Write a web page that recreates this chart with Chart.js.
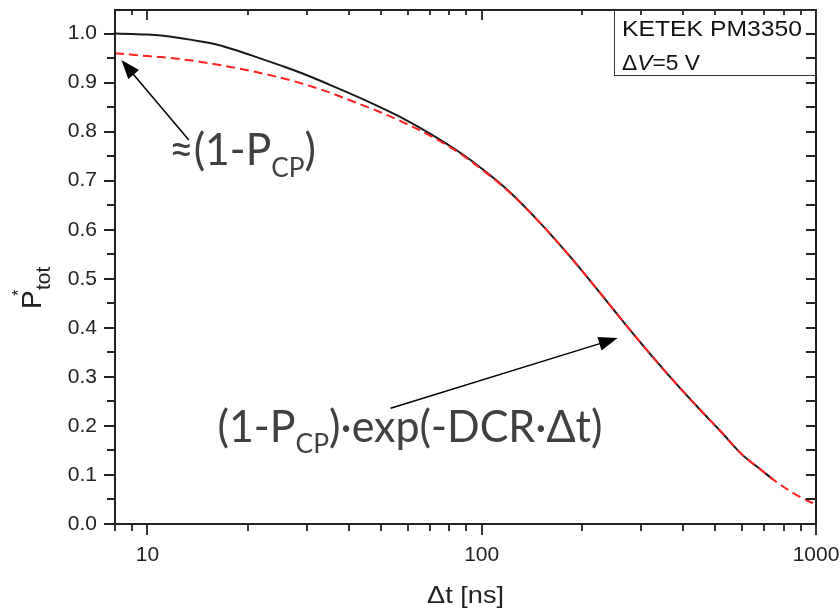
<!DOCTYPE html>
<html>
<head>
<meta charset="utf-8">
<script src="https://cdn.jsdelivr.net/npm/chart.js@4.4.1/dist/chart.umd.min.js"></script>
<style>
  html, body { margin: 0; padding: 0; background: #fff; }
  canvas { display: block; }
</style>
</head>
<body>
<canvas id="chartCanvas" width="840" height="611"></canvas>
<script>
// values
const dtValues = [8, 9, 10, 11, 12.5, 15.5, 18, 21, 25, 29, 35, 40, 50, 57, 70, 85, 100, 120, 150, 185, 220, 273, 330, 385, 450, 520, 600, 680, 740, 860, 1000];
const measuredValues = [1.000, 0.999, 0.998, 0.996, 0.991, 0.980, 0.968, 0.953, 0.935, 0.919, 0.896, 0.879, 0.849, 0.830, 0.796, 0.760, 0.725, 0.680, 0.613, 0.543, 0.481, 0.402, 0.335, 0.283, 0.233, 0.188, 0.142, 0.112, 0.092, null, null];
const modelValues = [0.960, 0.957, 0.954, 0.952, 0.948, 0.939, 0.931, 0.922, 0.910, 0.898, 0.880, 0.865, 0.839, 0.822, 0.792, 0.758, 0.723, 0.679, 0.613, 0.543, 0.481, 0.402, 0.335, 0.283, 0.233, 0.188, 0.142, 0.112, 0.092, 0.062, 0.039];

const xTickLabels = [10, 100, 1000];
const xMinorTicks = [8, 9, 20, 30, 40, 50, 60, 70, 80, 90, 200, 300, 400, 500, 600, 700, 800, 900];
const yTickLabels = [0, 0.1, 0.2, 0.3, 0.4, 0.5, 0.6, 0.7, 0.8, 0.9, 1.0];
const yMinorTicks = [0.05, 0.15, 0.25, 0.35, 0.45, 0.55, 0.65, 0.75, 0.85, 0.95];

const ARIAL = "'Liberation Sans', Arial, sans-serif";
const CALIBRI = "Lato, 'Open Sans', sans-serif";

function toPoints(ys) {
  return dtValues.map((x, i) => ({x: x, y: ys[i]})).filter(p => p.y !== null);
}

// draw a run of text pieces, squeezed/stretched to a given width
function drawPieces(ctx, pieces, x, y, width) {
  let total = 0;
  pieces.forEach(p => {
    ctx.font = p.font;
    total += ctx.measureText(p.text).width;
  });
  ctx.save();
  ctx.translate(x, y);
  ctx.scale(width / total, 1);
  let cx = 0;
  pieces.forEach(p => {
    ctx.font = p.font;
    ctx.fillText(p.text, cx, p.dy || 0);
    cx += ctx.measureText(p.text).width;
  });
  ctx.restore();
}

function drawArrow(ctx, x1, y1, x2, y2) {
  const ang = Math.atan2(y2 - y1, x2 - x1);
  const len = 19, half = 7;
  ctx.save();
  ctx.strokeStyle = '#000';
  ctx.fillStyle = '#000';
  ctx.lineWidth = 1.5;
  ctx.beginPath();
  ctx.moveTo(x1, y1);
  ctx.lineTo(x2 - Math.cos(ang) * len * 0.8, y2 - Math.sin(ang) * len * 0.8);
  ctx.stroke();
  ctx.beginPath();
  ctx.moveTo(x2, y2);
  ctx.lineTo(x2 - Math.cos(ang) * len + Math.sin(ang) * half, y2 - Math.sin(ang) * len - Math.cos(ang) * half);
  ctx.lineTo(x2 - Math.cos(ang) * len - Math.sin(ang) * half, y2 - Math.sin(ang) * len + Math.cos(ang) * half);
  ctx.closePath();
  ctx.fill();
  ctx.restore();
}

const decorations = {
  id: 'decorations',
  afterDraw(chart) {
    const ctx = chart.ctx;
    const a = chart.chartArea;
    const xs = chart.scales.x;
    const ys = chart.scales.y;

    // frame
    ctx.save();
    ctx.strokeStyle = '#222';
    ctx.lineWidth = 2;
    ctx.strokeRect(a.left, a.top, a.right - a.left, a.bottom - a.top);

    // ticks
    ctx.lineWidth = 1.8;
    ctx.beginPath();
    xTickLabels.forEach(v => {
      const px = Math.round(xs.getPixelForValue(v));
      ctx.moveTo(px, a.bottom); ctx.lineTo(px, a.bottom + 11);
      ctx.moveTo(px, a.top); ctx.lineTo(px, a.top + 10);
    });
    xMinorTicks.forEach(v => {
      const px = Math.round(xs.getPixelForValue(v));
      ctx.moveTo(px, a.bottom); ctx.lineTo(px, a.bottom + 7);
      ctx.moveTo(px, a.top); ctx.lineTo(px, a.top + 5);
    });
    yTickLabels.forEach(v => {
      const py = Math.round(ys.getPixelForValue(v));
      ctx.moveTo(a.left - 11, py); ctx.lineTo(a.left, py);
      ctx.moveTo(a.right - 10, py); ctx.lineTo(a.right, py);
    });
    yMinorTicks.forEach(v => {
      const py = Math.round(ys.getPixelForValue(v));
      ctx.moveTo(a.left - 8, py); ctx.lineTo(a.left, py);
      ctx.moveTo(a.right - 10, py); ctx.lineTo(a.right, py);
    });
    ctx.stroke();
    ctx.restore();

    // axis titles
    ctx.save();
    ctx.fillStyle = '#222';
    ctx.textBaseline = 'alphabetic';
    drawPieces(ctx, [{text: '\u0394t [ns]', font: '24px ' + ARIAL}], 427, 603, 77);
    ctx.translate(41, 309);
    ctx.rotate(-Math.PI / 2);
    ctx.font = '28px ' + ARIAL;
    ctx.fillText('P', 0, 0);
    ctx.font = '17px ' + ARIAL;
    ctx.fillText('*', 13, -17);
    ctx.font = '21px ' + ARIAL;
    ctx.fillText('tot', 19, 9);
    ctx.restore();

    // legend box
    ctx.save();
    ctx.strokeStyle = '#333';
    ctx.lineWidth = 1;
    ctx.strokeRect(a.right - 202 + 0.5, a.top + 0.5, 202, 65);
    ctx.fillStyle = '#111';
    drawPieces(ctx, [{text: 'KETEK PM3350', font: '22px ' + ARIAL}], a.right - 194, a.top + 26, 180);
    drawPieces(ctx, [
      {text: '\u0394', font: '22px ' + ARIAL},
      {text: 'V', font: 'italic 22px ' + ARIAL},
      {text: '=5 V', font: '22px ' + ARIAL}
    ], a.right - 194, a.top + 60, 78);
    ctx.restore();

    // annotations
    ctx.save();
    ctx.fillStyle = '#404040';
    const big = '44px ' + CALIBRI;
    const sub = '27px ' + CALIBRI;
    drawPieces(ctx, [
      {text: '\u2248(1-P', font: big},
      {text: 'CP', font: sub, dy: 12},
      {text: ')', font: big}
    ], xs.getPixelForValue(11.6), ys.getPixelForValue(0.732), 147);
    drawPieces(ctx, [
      {text: '(1-P', font: big},
      {text: 'CP', font: sub, dy: 11},
      {text: ')\u00b7exp(-DCR\u00b7\u0394t)', font: big}
    ], xs.getPixelForValue(16.2), ys.getPixelForValue(0.168), 385);
    ctx.restore();

    drawArrow(ctx, xs.getPixelForValue(13.3), ys.getPixelForValue(0.783), xs.getPixelForValue(8.36), ys.getPixelForValue(0.946));
    drawArrow(ctx, xs.getPixelForValue(53.4), ys.getPixelForValue(0.236), xs.getPixelForValue(255), ys.getPixelForValue(0.379));
  }
};

const ctx = document.getElementById('chartCanvas').getContext('2d');
new Chart(ctx, {
  type: 'line',
  data: {
    datasets: [
      {
        label: 'model',
        data: toPoints(modelValues),
        borderColor: '#ff2020',
        borderWidth: 2,
        borderDash: [9, 5],
        pointRadius: 0,
        fill: false,
        cubicInterpolationMode: 'monotone',
      },
      {
        label: 'measured',
        data: toPoints(measuredValues),
        borderColor: '#1a1a1a',
        borderWidth: 2,
        pointRadius: 0,
        fill: false,
        cubicInterpolationMode: 'monotone',
      },
    ],
  },
  options: {
    responsive: false,
    animation: false,
    layout: {padding: {left: 0, top: 10, right: 24, bottom: 0}},
    plugins: {
      legend: {display: false},
      tooltip: {enabled: false},
    },
    scales: {
      x: {
        type: 'logarithmic',
        position: 'bottom',
        min: 8,
        max: 1000,
        afterBuildTicks: s => { s.ticks = xTickLabels.map(v => ({value: v})); },
        afterFit: s => { s.height = 87; s.paddingLeft = 0; s.paddingRight = 0; },
        grid: {drawOnChartArea: false, color: 'rgba(0,0,0,0)', tickLength: 11},
        border: {display: false},
        ticks: {
          autoSkip: false,
          maxRotation: 0,
          padding: 8,
          color: '#222',
          font: {family: ARIAL, size: 21},
          callback: value => String(value),
        },
      },
      y: {
        type: 'linear',
        min: 0,
        max: 1.048,
        afterBuildTicks: s => { s.ticks = yTickLabels.map(v => ({value: v})); },
        afterFit: s => { s.width = 115; s.paddingTop = 0; s.paddingBottom = 0; },
        grid: {drawOnChartArea: false, color: 'rgba(0,0,0,0)', tickLength: 11},
        border: {display: false},
        ticks: {
          padding: 7,
          color: '#222',
          font: {family: ARIAL, size: 21},
          callback: value => value.toFixed(1),
        },
      },
    },
  },
  plugins: [decorations],
});
</script>
</body>
</html>
